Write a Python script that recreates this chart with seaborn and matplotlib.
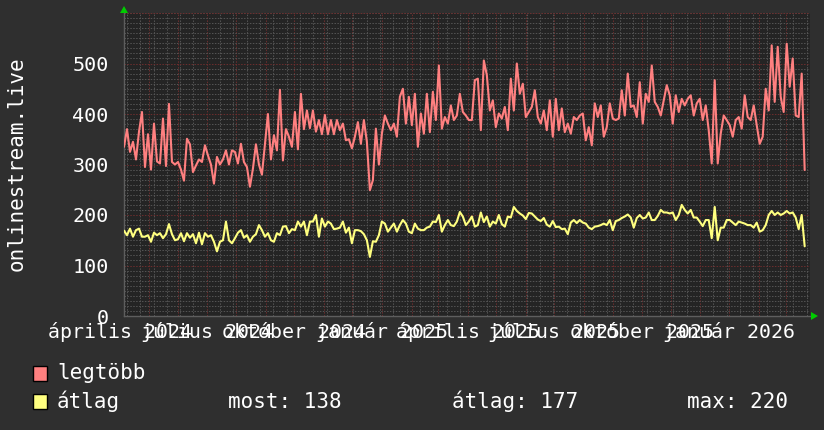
import numpy as np
import pandas as pd
import matplotlib
matplotlib.use("Agg")
import matplotlib.pyplot as plt
import matplotlib.dates as mdates
import matplotlib.transforms as mtransforms
from matplotlib.patches import Rectangle, Polygon
from matplotlib.ticker import MultipleLocator, FixedLocator
import seaborn as sns

# ---------------- data ----------------
max_values = [
    335, 370, 325, 345, 310, 365, 404, 295, 360, 290, 381, 306, 302, 391, 297, 420, 305, 300, 305, 290,
    268, 351, 340, 285, 298, 310, 305, 338, 318, 300, 262, 315, 300, 310, 328, 300, 328, 325,
    302, 341, 305, 295, 256, 292, 340, 300, 280, 340, 400, 310, 358, 328, 448, 308, 370, 355, 335, 404,
    330, 440, 370, 407, 372, 407, 365, 388, 360, 398, 360, 388, 360, 388, 368, 381, 348, 350, 332, 355,
    384, 341, 388, 345, 249, 269, 371, 300, 361, 397, 381, 368, 381, 355, 434, 450, 381, 434, 378, 440,
    335, 401, 361, 440, 364, 444, 388, 496, 371, 394, 381, 417, 388, 397, 440, 404, 397, 388,
    388, 467, 470, 368, 506, 477, 407, 427, 374, 401, 391, 414, 368, 470, 407, 500, 440, 460, 394, 404,
    414, 447, 394, 381, 407, 368, 427, 355, 430, 368, 411, 364, 381, 361, 394, 388, 397, 401,
    348, 374, 338, 421, 394, 417, 355, 374, 421, 391, 388, 391, 447, 397, 480, 414, 417, 394, 463, 381,
    440, 424, 496, 424, 414, 397, 427, 457, 437, 381, 437, 404, 430, 417, 430, 437, 397, 421,
    430, 388, 417, 368, 302, 467, 302, 361, 397, 388, 378, 355, 388, 394, 371, 437, 394, 388, 417, 378,
    341, 355, 450, 407, 536, 424, 533, 434, 404, 539, 454, 510, 397, 394, 480, 289,
]
avg_values = [
    169, 160, 173, 157, 170, 173, 157, 157, 160, 147, 165, 160, 164, 154, 162, 182, 162, 150, 152, 164,
    148, 164, 155, 162, 144, 165, 142, 164, 157, 160, 147, 128, 147, 150, 187, 150, 144, 154,
    165, 170, 155, 160, 147, 157, 162, 180, 170, 157, 164, 150, 147, 164, 160, 177, 178, 164, 172, 170,
    187, 177, 187, 160, 187, 187, 200, 157, 193, 177, 187, 183, 172, 173, 175, 187, 165, 175, 144, 170,
    170, 168, 162, 150, 117, 148, 147, 160, 187, 183, 167, 175, 183, 167, 180, 190, 183, 167, 164, 183,
    173, 170, 170, 175, 177, 187, 186, 200, 167, 180, 190, 180, 178, 187, 206, 197, 180, 187,
    197, 177, 180, 205, 186, 197, 177, 187, 183, 200, 182, 177, 197, 195, 216, 208, 203, 199, 192, 204,
    203, 197, 191, 188, 194, 181, 177, 188, 176, 177, 172, 173, 162, 185, 190, 184, 190, 185,
    183, 175, 172, 177, 178, 180, 183, 180, 190, 170, 188, 190, 194, 197, 201, 195, 175, 194, 200, 193,
    195, 205, 190, 190, 198, 210, 205, 205, 203, 205, 190, 200, 220, 210, 203, 210, 195, 195,
    187, 178, 190, 190, 154, 216, 150, 175, 175, 190, 190, 185, 180, 187, 185, 183, 180, 180, 175, 185,
    167, 170, 180, 200, 208, 200, 205, 200, 203, 208, 203, 205, 195, 172, 200, 138,
]
series_names = ["legtöbb", "átlag"]
stat_labels = ["most: 138", "átlag: 177", "max: 220"]
y_ticks = [0, 100, 200, 300, 400, 500]
x_tick_dates = ["2024-04-01", "2024-07-01", "2024-10-01", "2025-01-01",
                "2025-04-01", "2025-07-01", "2025-10-01", "2026-01-01"]
x_tick_labels = ["április 2024", "július 2024", "október 2024", "január 2025",
                 "április 2025", "július 2025", "október 2025", "január 2026"]
y_title = "onlinestream.live"
first_date = "2024-04-05"
last_date = "2026-03-21"
view_end = "2026-03-26 14:00"

# ---------------- style ----------------
CANVAS = "#2f2f2f"
PLOTBG = "#242424"
RED = "#ff8080"
YEL = "#ffff80"
TXT = "#ffffff"
MINOR = "#555555"
MAJOR = "#6e2e2e"

sns.set_style("dark")
plt.rcParams["font.family"] = ["DejaVu Sans Mono", "DejaVu Sans"]

W, H = 824, 430
fig = plt.figure(figsize=(W / 100, H / 100), dpi=100, facecolor=CANVAS)
ax = fig.add_axes([124 / W, (H - 316) / H, 686 / W, 303 / H])
ax.set_facecolor(PLOTBG)

dates = pd.date_range(first_date, last_date, periods=len(max_values))
df = pd.DataFrame({"date": dates, series_names[0]: max_values, series_names[1]: avg_values})

sns.lineplot(data=df, x="date", y=series_names[0], color=RED, linewidth=1.5, ax=ax, zorder=5)
sns.lineplot(data=df, x="date", y=series_names[1], color=YEL, linewidth=1.5, ax=ax, zorder=5)

ax.set_xlim(pd.Timestamp(first_date), pd.Timestamp(view_end))
ax.set_ylim(0, 600)
ax.set_xlabel("")
ax.set_ylabel("")

# grid
ax.xaxis.set_major_locator(mdates.MonthLocator())
ax.xaxis.set_minor_locator(mdates.WeekdayLocator(byweekday=mdates.MO, interval=2))
ax.yaxis.set_major_locator(FixedLocator(y_ticks))
ax.yaxis.set_minor_locator(MultipleLocator(10))
ax.set_xticklabels([])
ax.set_yticklabels([str(v) for v in y_ticks])
ax.tick_params(axis="both", which="both", length=0)
ax.tick_params(axis="y", pad=11, labelsize=14.5, labelcolor=TXT)

ax.grid(False)
ax.set_axisbelow(True)
ax.grid(which="minor", axis="both", color=MINOR, linestyle=(0, (1.5, 1.5)), linewidth=0.7)
ax.grid(which="major", axis="x", color=MAJOR, linestyle=(0, (1.5, 1.5)), linewidth=0.7)
for v in range(100, 601, 100):
    ax.axhline(v, color=MAJOR, linestyle=(0, (1.5, 1.5)), linewidth=0.7, zorder=1)

for side in ["top", "right"]:
    ax.spines[side].set_visible(False)
for side in ["left", "bottom"]:
    ax.spines[side].set_visible(True)
    ax.spines[side].set_color("#5e5e5e")
    ax.spines[side].set_linewidth(1.0)

# x labels (month ticks, overlapping like the original)
trans = mtransforms.blended_transform_factory(ax.transData, fig.transFigure)
for d, lab in zip(x_tick_dates, x_tick_labels):
    ax.text(mdates.date2num(pd.Timestamp(d)), 1 - 338 / H, lab, transform=trans,
            ha="center", va="baseline", fontsize=14.3, color=TXT, clip_on=False)

# y title
fig.text(17 / W, 1 - 164 / H, y_title, rotation=90, ha="center", va="center",
         fontsize=15, color=TXT)

# arrows
def px(x, y):
    return (x / W, 1 - y / H)

fig.add_artist(Polygon([px(120, 13), px(128, 13), px(124, 6)], closed=True,
                       transform=fig.transFigure, facecolor="#00cc00", edgecolor="none"))
fig.add_artist(Polygon([px(811, 312), px(811, 320), px(818, 316)], closed=True,
                       transform=fig.transFigure, facecolor="#00cc00", edgecolor="none"))

# legend
for (yy, col) in [(366, RED), (394, YEL)]:
    fig.add_artist(Rectangle(px(33, yy + 15), 14 / W, 15 / H, transform=fig.transFigure,
                             facecolor=col, edgecolor="black", linewidth=1.0))
fig.text(57 / W, 1 - 379 / H, series_names[0], ha="left", va="baseline", fontsize=15, color=TXT)
fig.text(57 / W, 1 - 408 / H, series_names[1], ha="left", va="baseline", fontsize=15, color=TXT)
for xx, s in zip([228, 452, 687], stat_labels):
    fig.text(xx / W, 1 - 408 / H, s, ha="left", va="baseline", fontsize=15, color=TXT)

fig.savefig("out.png", dpi=100, facecolor=CANVAS)
